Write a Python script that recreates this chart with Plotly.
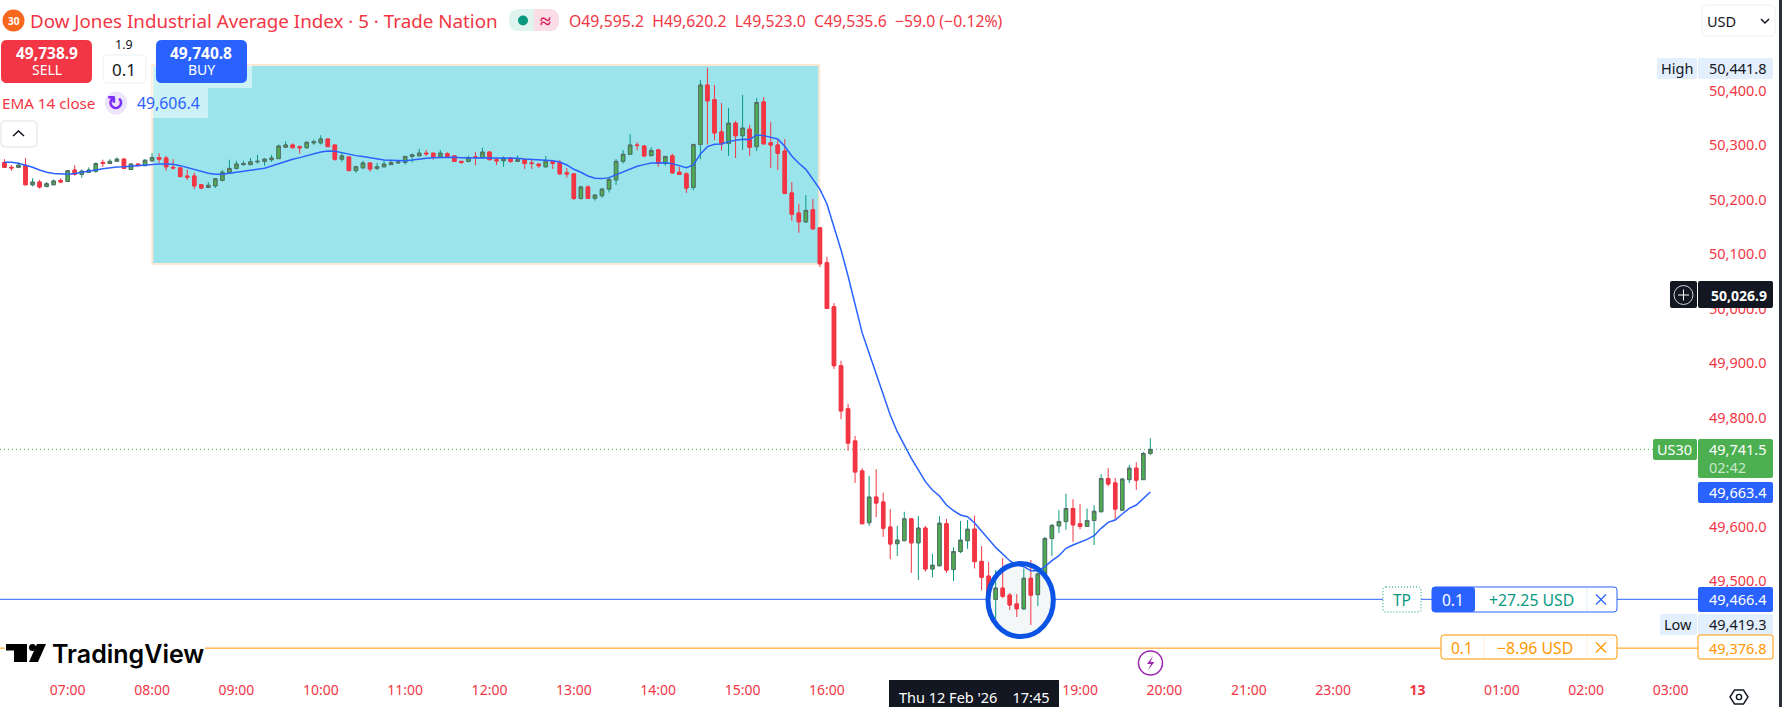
import plotly.graph_objects as go

BARS = list(range(-9, 155))
OPENS = [50268,50259,50259,50263,50227,50232,50224,50227,50235,
50233,50254,50246,50250,50252,50268,50266,50270,50274,50255,
50265,50262,50271,50277,50276,50259,50258,50243,50243,50227,
50222,50225,50235,50249,50257,50264,50264,50269,50270,50273,
50275,50296,50300,50297,50295,50304,50304,50311,50300,50274,
50278,50253,50258,50267,50257,50260,50264,50267,50268,50279,
50280,50285,50285,50278,50284,50280,50270,50270,50278,50277,
50287,50273,50271,50276,50270,50273,50267,50265,50260,50270,
50268,50249,50247,50202,50223,50202,50207,50219,50236,50270,
50283,50300,50298,50280.5,50291,50266,50280,50250,50247,50222,
50301,50410,50383,50324,50303,50340,50317,50329,50297,50379,
50304,50300,50289,50212,50175,50159,50181,50148,50084,50003,
49895,49816,49757,49702,49607,49654,49645,49599,49568.5,49574,
49614,49570,49597,49522,49528,49605,49521,49554,49574,49595.2,
49536,49509,49466,49487,49474,49458,49449,49505,49475,49512,
49578,49601,49609,49633,49605,49600,49611,49627,49688,49680,
49630,49686,49707,49686,49734]
HIGHS = [50274,50263,50268,50276,50239,50236,50232,50237,50239,
50254,50263,50255,50259,50268,50273,50274,50277,50276,50266,
50266,50274,50285,50285,50280,50274,50259,50255,50249,50227,
50232,50238,50254,50273,50271,50271,50276,50282,50276,50282,
50301,50307,50303,50299,50306,50310,50318,50312,50300,50285,
50278,50262,50271,50267,50267,50271,50271,50272,50280,50284,
50293,50291,50285,50291,50287,50281,50270,50280,50287,50295,
50288,50277,50279,50277,50281,50274,50273,50265,50280,50271,
50273,50258,50247,50225,50226,50210,50221,50241,50274,50291,
50320,50305,50300,50296,50292,50279,50284,50260,50250,50301,
50419,50441.8,50410,50377,50368,50344,50392,50337,50386,50388,
50342,50309,50311,50232,50192,50208,50201,50148,50095,50010,
49904,49825,49766,49707,49693,49705,49662,49632,49601,49627,
49614,49619,49601,49550,49619,49614,49562,49610,49612,49620.2,
49564,49535,49520,49542,49478,49476,49523,49538.5,49520,49581,
49604.5,49630,49660,49650,49641,49633,49639,49696,49707,49689,
49689,49713,49718,49737,49762]
LOWS = [50259,50253,50259,50227,50224,50220,50222,50227,50230,
50233,50244,50240,50250,50249,50260,50265,50269,50256,50254,
50262,50262,50269,50267,50253,50255,50242,50236,50219,50219,
50221,50221,50233,50248,50255,50262,50263,50266,50262,50269,
50275,50295,50295,50284,50294,50300,50301,50297,50271,50269,
50253,50249,50258,50251,50254,50260,50264,50266,50264,50268,
50280,50280,50273,50278,50279,50270,50265,50268,50263,50277,
50273,50263,50260,50267,50270,50256,50256,50258,50260,50256,
50246,50240,50199,50200,50202,50198,50203,50213,50227,50266,
50282,50290,50278,50280,50260,50262,50247,50246,50212,50217,
50274,50301,50309,50290,50280,50276,50291,50280,50289,50302,
50258,50254,50210,50161,50139,50157,50146,50076,49999,49889,
49797,49739,49680,49605,49601,49617,49581,49540,49546,49573,
49515,49502,49517,49507,49527,49515,49500,49551,49559,49523,
49483,49465,49430,49469,49447,49434,49447,49419.3,49454,49508,
49546,49588,49594,49572,49595,49600,49566,49627,49674,49612,
49629,49680,49667,49686,49731]
CLOSES = [50259,50258,50263,50227,50232,50223,50229,50234,50232,
50253,50246,50252,50254,50266,50266,50270,50274,50257,50265,
50262,50272,50277,50274,50260,50258,50242,50241,50225,50221,
50226,50238,50250,50257,50265,50266,50269,50270,50274,50276,
50298,50300,50295,50295,50305,50306,50311,50297,50274,50280,
50253,50260,50267,50256,50260,50265,50268,50269,50279,50282,
50285,50284,50278,50285,50279,50270,50268,50277,50277.5,50287,
50273,50271,50276,50270,50273,50266,50266,50262,50271,50266,
50247,50247,50202,50223,50202,50208,50219,50237,50270,50283,
50300,50299,50280,50290,50266,50279,50249,50246,50221,50301,
50410,50381,50322,50302,50340,50317,50331,50296,50378,50302,
50300,50285,50211,50173,50159,50180,50146,50082,50000,49895,
49812,49753,49700,49605,49654,49643,49597,49568,49575,49614,
49570,49597,49522,49529,49606,49520,49554,49575,49595,49535.6,
49507,49474,49487,49472,49456,49449,49505,49474,49513,49578,
49602,49609,49633,49603,49600,49611,49628,49688,49678,49632,
49687,49707,49685,49734,49741.5]
EMA14 = [50268.3,50268.3,50266.4,50263.4,50259.1,50254.2,50249.9,50247.5,50246.2,
50246.2,50247.5,50249.3,50251.7,50254.2,50256.6,50258.5,50259.7,50260.3,50261.5,
50262.8,50264,50264.6,50265.2,50265.2,50264.6,50262.1,50258.5,50254.2,50250.5,
50248.1,50246.2,50246.2,50248.1,50249.9,50251.7,50253.6,50255.4,50257.3,50261.5,
50265.8,50270.1,50273.8,50276.8,50280.5,50283.6,50287.2,50289.1,50288.5,50286,
50282.9,50280.5,50278.7,50276.2,50273.8,50272.5,50271.9,50271.3,50271.3,50272.5,
50274.4,50275.6,50276.8,50277.4,50278.1,50277.4,50276.8,50276.2,50276.2,50276.8,
50276.8,50276.8,50276.8,50276.2,50275.6,50274.4,50273.2,50272.5,50271.9,50271.3,
50268.9,50263.4,50255.4,50249.9,50243.2,50238.9,50238.3,50240.1,50245.6,50250.5,
50256,50260.9,50264,50267,50267,50267.6,50265.8,50262.1,50258.5,50263.4,
50283.6,50297,50301.3,50301.9,50306.2,50308.6,50310.5,50309.9,50318.4,50317.2,
50314.8,50311.1,50297.6,50279.9,50266.4,50255.4,50237.1,50218.7,50191.8,50151.4,
50107.4,50059.7,50006.5,49955.7,49917.8,49881,49841.3,49804.6,49774,49748.3,
49725.1,49703.7,49682.3,49667,49656,49639.4,49629,49621.1,49618,49606.4,
49590.5,49576.4,49561.7,49549.5,49537.3,49529.3,49526.3,49518.9,49518.9,49526.3,
49537.3,49546.4,49559.9,49566,49570.9,49576.4,49583.1,49596.6,49607.6,49611.9,
49622.9,49633.3,49639.4,49651.6,49663.4]

TIME_TICK_BARS = [0,12,24,36,48,60,72,84,96,108,144,156,168,180,192,204,216,228]
TIME_TICK_LABELS = ["07:00","08:00","09:00","10:00","11:00","12:00","13:00","14:00","15:00","16:00",
                    "19:00","20:00","21:00","23:00","<b>13</b>","01:00","02:00","03:00"]
PRICE_TICKS = [49500,49600,49800,49900,50000,50100,50200,50300,50400]

LAST_PRICE = 49741.5
TP_PRICE = 49466.4
SL_PRICE = 49376.8
BOX_BARS = [12.03, 106.9]
BOX_PRICES = [50081.7, 50446.9]
CIRCLE_BARS = [130.9, 140.2]
CIRCLE_PRICES = [49398, 49532]

W, H = 1782, 707
PL_W, PL_H = 1702, 680
RED, GREEN, TEAL, BLUE, ORANGE, DARK = "#F23645", "#4CAF50", "#089981", "#2962FF", "#FF9800", "#131722"
FONT = "Noto Sans"


def fx(v):
    return round(v / PL_W, 6)


def fy(v):
    return round(1 - v / PL_H, 6)


shapes, notes = [], []


def rrect(x0, y0, x1, y1, fill="white", line=None, r=3, lw=1, dash=None, layer="above"):
    def pt(a, b):
        return f"{fx(a)},{fy(b)}"
    p = (f"M{pt(x0+r,y0)} L{pt(x1-r,y0)} Q{pt(x1,y0)} {pt(x1,y0+r)} L{pt(x1,y1-r)} Q{pt(x1,y1)} {pt(x1-r,y1)} "
         f"L{pt(x0+r,y1)} Q{pt(x0,y1)} {pt(x0,y1-r)} L{pt(x0,y0+r)} Q{pt(x0,y0)} {pt(x0+r,y0)} Z")
    ln = dict(color=line or "rgba(0,0,0,0)", width=lw if line else 0)
    if dash:
        ln["dash"] = dash
    shapes.append(dict(type="path", xref="paper", yref="paper", path=p, fillcolor=fill, line=ln, layer=layer))


def poly(pts, fill="rgba(0,0,0,0)", line=None, lw=1, close=True):
    p = "M" + " L".join(f"{fx(a)},{fy(b)}" for a, b in pts) + (" Z" if close else "")
    shapes.append(dict(type="path", xref="paper", yref="paper", path=p, fillcolor=fill,
                       line=dict(color=line or "rgba(0,0,0,0)", width=lw if line else 0), layer="above"))


def oval(cx, cy, r, fill="rgba(0,0,0,0)", line=None, lw=1, ry=None):
    ry = ry or r
    shapes.append(dict(type="circle", xref="paper", yref="paper", x0=fx(cx-r), x1=fx(cx+r), y0=fy(cy+ry), y1=fy(cy-ry),
                       fillcolor=fill, line=dict(color=line or "rgba(0,0,0,0)", width=lw if line else 0), layer="above"))


def text(x, y, s, color=DARK, size=14, anchor="center", weight=None, family=FONT):
    f = dict(family=family, size=size, color=color)
    if weight:
        f["weight"] = weight
    notes.append(dict(xref="paper", yref="paper", x=fx(x), y=fy(y), text=s, showarrow=False, font=f,
                      xanchor=anchor, yanchor="middle", borderpad=0, borderwidth=0))


# price-tied lines and the drawn box
shapes.append(dict(type="rect", xref="x", yref="y", x0=BOX_BARS[0], x1=BOX_BARS[1], y0=BOX_PRICES[0], y1=BOX_PRICES[1],
                   fillcolor="#9BE4EC", line=dict(color="#FCE8D2", width=2), layer="below"))
shapes.append(dict(type="circle", xref="x", yref="y", x0=CIRCLE_BARS[0], x1=CIRCLE_BARS[1], y0=CIRCLE_PRICES[0], y1=CIRCLE_PRICES[1],
                   fillcolor="#F4F7F7", line=dict(width=0), layer="below"))
shapes.append(dict(type="line", xref="paper", yref="y", x0=0, x1=fx(1653), y0=LAST_PRICE, y1=LAST_PRICE,
                   line=dict(color=GREEN, width=1, dash="1px,3px"), layer="below"))
shapes.append(dict(type="line", xref="paper", yref="y", x0=0, x1=fx(1698), y0=TP_PRICE, y1=TP_PRICE,
                   line=dict(color=BLUE, width=1), layer="below"))
shapes.append(dict(type="line", xref="paper", yref="y", x0=0, x1=fx(1698), y0=SL_PRICE, y1=SL_PRICE,
                   line=dict(color=ORANGE, width=1), layer="below"))
shapes.append(dict(type="circle", xref="x", yref="y", x0=CIRCLE_BARS[0], x1=CIRCLE_BARS[1], y0=CIRCLE_PRICES[0], y1=CIRCLE_PRICES[1],
                   fillcolor="rgba(0,0,0,0)", line=dict(color="#0B53E5", width=5), layer="above"))

# header
oval(13.5, 20.5, 11, fill="#F7681E")
text(13.5, 21, "<b>30</b>", "white", 10)
text(30, 21, "Dow Jones Industrial Average Index · 5 · Trade Nation", RED, 18.8, "left")
rrect(509, 9, 559, 31, fill="#DFF3EF", r=10)
rrect(534, 9, 559, 31, fill="#FBDDE6", r=10)
shapes.append(dict(type="rect", xref="paper", yref="paper", x0=fx(534), x1=fx(544), y0=fy(31), y1=fy(9),
                   fillcolor="#FBDDE6", line=dict(width=0), layer="above"))
oval(523, 20.5, 5, fill=TEAL)
text(545, 20, "<b>≈</b>", "#D81B60", 20)
text(569, 21, "O49,595.2&nbsp;&nbsp;H49,620.2&nbsp;&nbsp;L49,523.0&nbsp;&nbsp;C49,535.6&nbsp;&nbsp;−59.0 (−0.12%)", RED, 15.8, "left")

# sell/buy panel
rrect(152, 65, 252, 88, fill="rgba(255,255,255,0.5)", r=0)
rrect(152, 88, 208, 118, fill="rgba(255,255,255,0.5)", r=0)
rrect(1, 40, 92, 83, fill=RED, r=6)
text(46.5, 53, "<b>49,738.9</b>", "white", 15.5)
text(46.5, 70, "SELL", "white", 14)
text(124, 45, "1.9", DARK, 12.5)
rrect(103, 55, 146, 83, fill="white", line="#EDEFF2", r=5)
text(124, 69, "0.1", DARK, 17)
rrect(156, 40, 247, 83, fill=BLUE, r=6)
text(201.5, 53, "<b>49,740.8</b>", "white", 15.5)
text(201.5, 70, "BUY", "white", 14)

# indicator legend
text(2, 103, "EMA 14 close", RED, 15.2, "left")
oval(116, 103, 11, fill="#EDE3FB", ry=11.5)
text(116, 102, "<b>↻</b>", "#7B2CF5", 20)
text(137, 103, "49,606.4", BLUE, 15.8, "left")
rrect(1, 121, 37, 147, fill="white", line="#DDE0E4", r=4)
poly([(13, 136), (18.5, 131), (24, 136)], line=DARK, lw=1.6, close=False)

# price scale widgets
rrect(1702, 5, 1775, 36, fill="white", line="#EEF0F3", r=5)
text(1707, 21, "USD", DARK, 14.5, "left")
poly([(1761, 19), (1765, 23), (1769, 19)], line=DARK, lw=1.5, close=False)
rrect(1657, 58, 1697, 79, fill="#E3EFFD", r=2)
rrect(1698, 58, 1773, 79, fill="#E3EFFD", r=2)
text(1677, 68, "High", DARK, 14.5)
text(1767, 68, "50,441.8", DARK, 14.5, "right")
rrect(1670, 281, 1697, 308, fill=DARK, r=2)
rrect(1698, 281, 1773, 308, fill=DARK, r=2)
oval(1683.5, 295, 9.5, line="#D1D4DC", lw=1)
poly([(1678, 295), (1689, 295)], line="white", close=False)
poly([(1683.5, 289.5), (1683.5, 300.5)], line="white", close=False)
text(1767, 295, "<b>50,026.9</b>", "white", 14, "right")
rrect(1653, 439, 1697, 460, fill=GREEN, r=2)
text(1675, 449.5, "US30", "white", 14.5)
rrect(1698, 439, 1773, 478, fill=GREEN, r=2)
text(1767, 449, "49,741.5", "white", 14.5, "right")
text(1709, 467, "02:42", "#C9E7CB", 14.5, "left")
rrect(1698, 482, 1773, 503, fill=BLUE, r=2)
text(1767, 492, "49,663.4", "white", 14.5, "right")
rrect(1698, 587, 1773, 612, fill=BLUE, r=2)
text(1767, 599, "49,466.4", "white", 14.5, "right")
rrect(1660, 614, 1697, 635, fill="#E3EFFD", r=2)
rrect(1698, 614, 1773, 635, fill="#E3EFFD", r=2)
text(1678, 624.5, "Low", DARK, 14.5)
text(1767, 624.5, "49,419.3", DARK, 14.5, "right")
rrect(1698, 635, 1773, 659, fill="white", line=ORANGE, r=2)
text(1767, 647.5, "49,376.8", ORANGE, 14.5, "right")

# order tags
rrect(1383, 587, 1421, 612, fill="white", line=TEAL, r=3, dash="1px,2px")
text(1402, 599.5, "TP", TEAL, 15.5)
rrect(1432, 587, 1617, 612, fill="white", line=BLUE, r=3)
rrect(1432, 587, 1475, 612, fill=BLUE, r=3)
text(1453, 599.5, "0.1", "white", 15.5)
text(1531, 599.5, "+27.25 USD", TEAL, 15.8)
poly([(1587, 588), (1587, 611)], line="#E3EFFD", close=False)
poly([(1596, 594.5), (1606, 604.5)], line=BLUE, lw=1.3, close=False)
poly([(1606, 594.5), (1596, 604.5)], line=BLUE, lw=1.3, close=False)
rrect(1441, 635, 1617, 659, fill="white", line=ORANGE, r=3)
text(1462, 647.5, "0.1", ORANGE, 15.5)
poly([(1484, 636), (1484, 658)], line="#FFF0DC", close=False)
text(1535, 647.5, "−8.96 USD", ORANGE, 15.8)
poly([(1587, 636), (1587, 658)], line="#FFF0DC", close=False)
poly([(1596, 642.5), (1606, 652.5)], line=ORANGE, lw=1.3, close=False)
poly([(1606, 642.5), (1596, 652.5)], line=ORANGE, lw=1.3, close=False)

# watermark
rrect(5, 640, 205, 670, fill="white", r=0)
poly([(6, 644), (27, 644), (27, 662), (14, 662), (14, 650.5), (6, 650.5)], fill="#000000")
oval(32.5, 647.5, 3.5, fill="#000000")
poly([(37, 644), (46, 644), (38, 662), (29, 662)], fill="#000000")
text(52, 654, "TradingView", "#000000", 25, "left", weight=600, family="Inter")

# lightning marker, crosshair date and settings icon
oval(1150.5, 663, 12, fill="white", line="#9C27B0", lw=1.5)
poly([(1153, 656), (1147, 664), (1151, 664), (1148, 670), (1154.5, 662), (1150.5, 662)], fill="#9C27B0")
shapes.append(dict(type="rect", xref="paper", yref="paper", x0=fx(889), x1=fx(1059), y0=fy(707), y1=fy(680),
                   fillcolor=DARK, line=dict(width=0), layer="above"))
text(974, 697, "Thu 12 Feb '26&nbsp;&nbsp;&nbsp;&nbsp;17:45", "white", 14.5)
poly([(1730, 697), (1734.5, 690), (1743.5, 690), (1748, 697), (1743.5, 704), (1734.5, 704)], line=DARK, lw=1.4)
oval(1739, 697, 2.6, line=DARK, lw=1.4)

# right window edge
shapes.append(dict(type="rect", xref="paper", yref="paper", x0=fx(1779), x1=fx(1782), y0=fy(707), y1=fy(0),
                   fillcolor="#2A2E39", line=dict(width=0), layer="above"))

fig = go.Figure()
fig.add_trace(go.Candlestick(
    x=BARS, open=OPENS, high=HIGHS, low=LOWS, close=CLOSES, whiskerwidth=0, name="wicks", hoverinfo="skip",
    increasing=dict(line=dict(color=TEAL, width=1), fillcolor=GREEN),
    decreasing=dict(line=dict(color=RED, width=1), fillcolor=RED)))
fig.add_trace(go.Candlestick(
    x=BARS, open=OPENS, close=CLOSES,
    high=[max(a, b) for a, b in zip(OPENS, CLOSES)], low=[min(a, b) for a, b in zip(OPENS, CLOSES)],
    whiskerwidth=0, name="US30", hoverinfo="skip",
    increasing=dict(line=dict(color="#5F6B66", width=1), fillcolor=GREEN),
    decreasing=dict(line=dict(color=RED, width=1), fillcolor=RED)))
fig.add_trace(go.Scatter(x=BARS, y=EMA14, mode="lines", name="EMA 14", hoverinfo="skip",
                         line=dict(color=BLUE, width=1.5)))

fig.update_layout(
    width=W, height=H, autosize=False, showlegend=False, paper_bgcolor="white", plot_bgcolor="white",
    margin=dict(l=0, r=W - PL_W, t=0, b=H - PL_H, pad=0),
    font=dict(family=FONT, size=14, color=RED), shapes=shapes, annotations=notes,
    xaxis=dict(range=[-9.63, 232.47], tickmode="array", tickvals=TIME_TICK_BARS, ticktext=TIME_TICK_LABELS,
               showgrid=False, zeroline=False, showline=False, ticks="", rangeslider=dict(visible=False),
               tickfont=dict(family=FONT, size=14, color=RED), fixedrange=True),
    yaxis=dict(range=[49318.35, 50566.05], side="right", tickmode="array", tickvals=PRICE_TICKS, tickformat=",.1f",
               showgrid=False, zeroline=False, showline=False, ticks="", ticklabelstandoff=6,
               tickfont=dict(family=FONT, size=14.5, color=RED), fixedrange=True),
)
fig.write_html("out.html", config=dict(displayModeBar=False),
               post_script="document.body.style.margin='0';document.documentElement.style.overflow='hidden';")
